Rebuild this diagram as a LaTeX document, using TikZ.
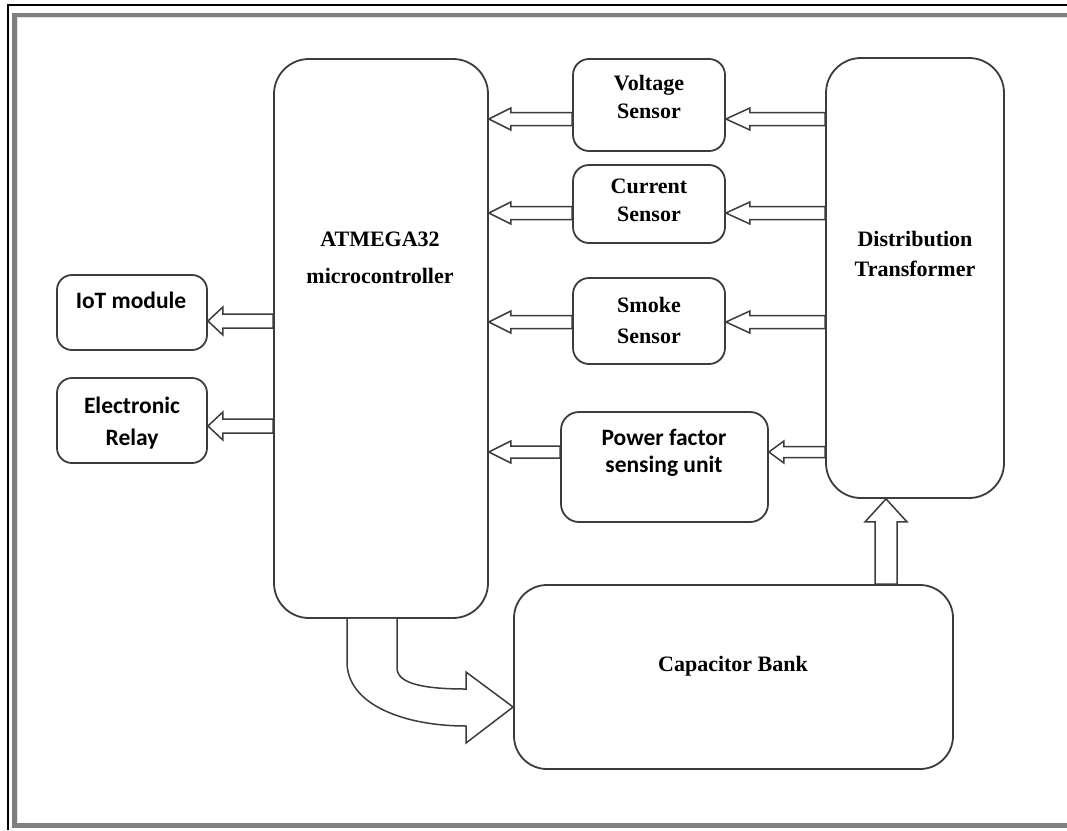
\documentclass[tikz,border=0pt]{standalone}
\usepackage{fontspec}
\setmainfont{Liberation Serif}
\newfontfamily\calfont{Carlito}
\usetikzlibrary{calc}
\definecolor{linec}{HTML}{3C3C3C}
\definecolor{framegray}{HTML}{808080}
\tikzset{
  box/.style={draw=linec, line width=1.8pt, fill=white, inner sep=0pt},
  arr/.style={draw=linec, line width=1.5pt, fill=white, line join=miter},
  tt/.style={font=\bfseries\fontsize{22}{28}\selectfont, align=center, text=black, inner sep=0pt},
  ct/.style={font=\calfont\bfseries\fontsize{23.5}{31}\selectfont, align=center, text=black, inner sep=0pt}
}
% #1 tip point, #2 tail point (same y), #3 head length, #4 head half height, #5 shaft half height
\newcommand\hollowleft[5]{%
  \coordinate (ht) at #1; \coordinate (hs) at #2;
  \draw[arr] (ht) -- ++(#3,-#4) -- ($(ht)+(#3,-#5)$) -- ($(hs)+(0,-#5)$)
     -- ($(hs)+(0,#5)$) -- ($(ht)+(#3,#5)$) -- ($(ht)+(#3,#4)$) -- cycle;}
\begin{document}
\begin{tikzpicture}[x=1pt,y=-1pt]
\useasboundingbox (0,0) rectangle (1067,830);
\fill[white] (0,0) rectangle (1067,830);
% frame
\draw[black, line width=2.2pt] (8,830) -- (8,5) -- (1067,5);
\draw[framegray, line width=4.6pt] (1067,14.8) -- (14.5,14.8) -- (14.5,825.2) -- (1067,825.2);
\draw[gray!25, line width=0.8pt] (1067,17.6) -- (17.3,17.6) -- (17.3,822.4);

% boxes
\node[box, rounded corners=35pt, minimum width=214pt, minimum height=559pt] (atm) at (381,338.5) {};
\node[box, rounded corners=16pt, minimum width=152pt, minimum height=92pt] (volt) at (649,105) {};
\node[box, rounded corners=16pt, minimum width=152pt, minimum height=78pt] (curr) at (649,204) {};
\node[box, rounded corners=16pt, minimum width=152pt, minimum height=86pt] (smoke) at (649,321) {};
\node[box, rounded corners=18pt, minimum width=207pt, minimum height=110pt] (pf) at (664.5,467) {};
\node[box, rounded corners=35pt, minimum width=178pt, minimum height=440pt] (dt) at (915,278) {};
\node[box, rounded corners=33pt, minimum width=439pt, minimum height=184pt] (cap) at (733.5,677) {};
\node[box, rounded corners=15pt, minimum width=150pt, minimum height=75pt] (iot) at (132,312.5) {};
\node[box, rounded corners=15pt, minimum width=150pt, minimum height=85pt] (relay) at (132,420.5) {};

% texts
\node[tt, font=\bfseries\fontsize{22}{37}\selectfont] (atmT) at (380,258) {ATMEGA32\\microcontroller};
\node[tt] (voltT) at (649,97) {Voltage\\Sensor};
\node[tt] (currT) at (649,200) {Current\\Sensor};
\node[tt, font=\bfseries\fontsize{22}{31}\selectfont] (smokeT) at (649,320) {Smoke\\Sensor};
\node[ct, font=\calfont\bfseries\fontsize{23.5}{27}\selectfont] (pfT) at (664,453) {Power factor\\sensing unit};
\node[tt, font=\bfseries\fontsize{22}{30}\selectfont] (dtT) at (915,254) {Distribution\\Transformer};
\node[tt] (capT) at (733,666) {Capacitor Bank};
\node[ct] (iotT) at (131,300) {IoT module};
\node[ct, font=\calfont\bfseries\fontsize{23.5}{32}\selectfont] (relayT) at (132,423) {Electronic\\Relay};

% sensor -> microcontroller
\hollowleft{(atm.east |- 0,119)}{(volt.west |- 0,119)}{22}{11}{6.5}
\hollowleft{(atm.east |- 0,213)}{(curr.west |- 0,213)}{22}{11}{6.5}
\hollowleft{(atm.east |- 0,322)}{(smoke.west |- 0,322)}{22}{11}{6.5}
\hollowleft{(atm.east |- 0,452)}{(pf.west |- 0,452)}{22}{11}{6}
% transformer -> sensors
\hollowleft{(volt.east |- 0,119)}{(dt.west |- 0,119)}{24}{11}{6.5}
\hollowleft{(curr.east |- 0,213)}{(dt.west |- 0,213)}{24}{11}{6.5}
\hollowleft{(smoke.east |- 0,322)}{(dt.west |- 0,322)}{24}{11}{6.5}
\hollowleft{(pf.east |- 0,452)}{(dt.west |- 0,452)}{15}{11}{5.5}
% microcontroller -> outputs
\hollowleft{(iot.east |- 0,321)}{(atm.west |- 0,321)}{15}{14}{7}
\hollowleft{(relay.east |- 0,426)}{(atm.west |- 0,426)}{15}{14}{7}

% capacitor bank -> transformer
\coordinate (vt) at (886,0 |- dt.south);
\coordinate (vs) at (886,0 |- cap.north);
\draw[arr] (vt) -- ++(-21,23) -- ++(10,0) -- ($(vs)+(-11,0)$) -- ($(vs)+(11,0)$)
  -- ($(vt)+(11,23)$) -- ($(vt)+(21,23)$) -- cycle;

% curved arrow microcontroller -> capacitor bank
\coordinate (ctip) at (cap.west |- 0,707);
\coordinate (cout) at (347,0 |- atm.south);
\coordinate (cin) at (397,0 |- atm.south);
\draw[arr] (cout) -- (347,662) .. controls (347,705) and (405,726) .. (466,726)
  -- (466,743) -- (ctip) -- (466,672) -- (466,689)
  .. controls (425,689) and (397,684) .. (397,668) -- (cin);
\end{tikzpicture}
\end{document}
